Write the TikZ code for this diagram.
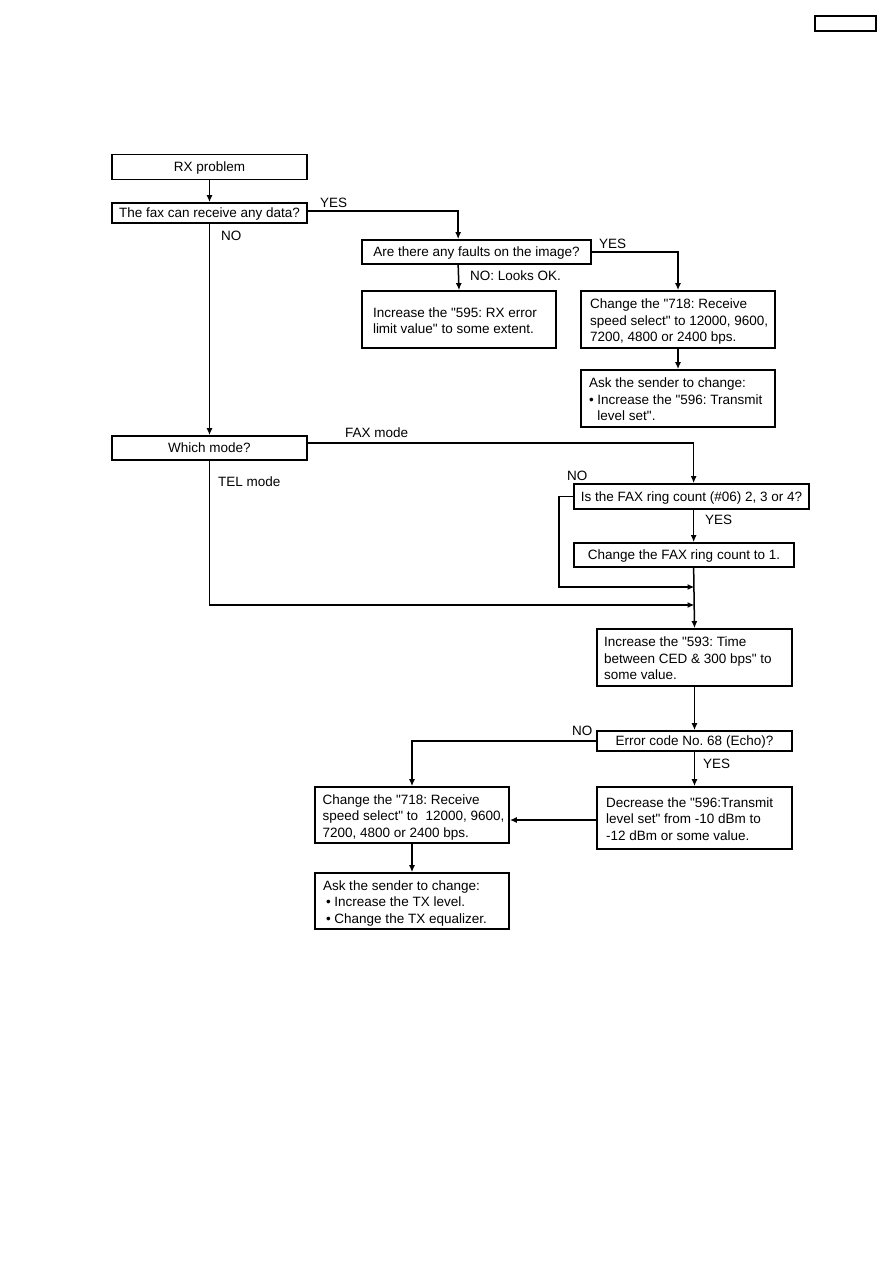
\documentclass[tikz,border=0pt]{standalone}
\usepackage{fontspec}
\setmainfont{Liberation Sans}[Ligatures=TeXOff]
\usetikzlibrary{arrows.meta,calc}
\frenchspacing
\newcommand{\boxtext}[3]{\raisebox{-2.5pt}[\height][\depth]{\makebox[#1][l]{\hspace*{#2}\begin{tabular}{@{}l@{}}#3\end{tabular}}}}
\begin{document}
\begin{tikzpicture}[x=1pt,y=-1pt,
 every node/.style={font=\fontsize{13.5}{16.6}\selectfont},
 box/.style={draw,line width=1.7pt,inner sep=0pt},
 sbox/.style n args={2}{box,minimum width=#1,minimum height=#2},
 tbox/.style n args={2}{sbox={#1}{#2},text height=9.7pt,text depth=0pt},
 lbl/.style={inner sep=0pt,anchor=base west},
 con/.style={line width=1.5pt},
 arr/.style={con,-{Latex[length=7pt,width=6pt]}}]
\useasboundingbox (0,0) rectangle (893,1263);
% boxes
\node[tbox={195pt}{25pt}] (rx) at (209.5,167) {RX problem};
\node[tbox={195pt}{20pt}] (fax) at (209.5,213) {The fax can receive any data?};
\node[tbox={229pt}{24pt}] (faults) at (476.5,252) {Are there any faults on the image?};
\node[sbox={194pt}{57pt}] (inc595) at (459,319.5) {\boxtext{194pt}{11pt}{Increase the "595: RX error\\ limit value" to some extent.}};
\node[sbox={194pt}{57pt}] (ch718a) at (678,319.5) {\boxtext{194pt}{9pt}{Change the "718: Receive\\ speed select" to 12000, 9600,\\ 7200, 4800 or 2400 bps.}};
\node[sbox={194pt}{57pt}] (ask1) at (678,398.5) {\boxtext{194pt}{8pt}{Ask the sender to change:\\ • Increase the "596: Transmit\\ \phantom{• }level set".}};
\node[tbox={195pt}{24pt}] (which) at (209.5,448) {Which mode?};
\node[tbox={235pt}{25pt}] (ring) at (691.5,496.5) {Is the FAX ring count (\#06) 2, 3 or 4?};
\node[tbox={220pt}{24pt}] (chfax) at (684,555) {Change the FAX ring count to 1.};
\node[sbox={195pt}{57pt}] (inc593) at (694.5,657.5) {\boxtext{195pt}{7pt}{Increase the "593: Time\\ between CED \& 300 bps" to\\ some value.}};
\node[tbox={195pt}{20pt}] (err) at (694.5,741) {Error code No. 68 (Echo)?};
\node[sbox={195pt}{62pt}] (dec) at (694.5,818) {\boxtext{195pt}{9pt}{Decrease the "596:Transmit\\ level set" from -10 dBm to\\ -12 dBm or some value.}};
\node[sbox={194pt}{56pt}] (ch718b) at (412,815) {\boxtext{194pt}{7.5pt}{Change the "718: Receive\\ speed select" to\ \ 12000, 9600,\\ 7200, 4800 or 2400 bps.}};
\node[sbox={194pt}{56pt}] (ask2) at (412,901) {\boxtext{194pt}{8pt}{Ask the sender to change:\\ \hspace*{3pt}• Increase the TX level.\\ \hspace*{3pt}• Change the TX equalizer.}};
\node[draw,line width=1.3pt,inner sep=0pt,minimum width=61pt,minimum height=15pt] (pagebox) at (845.5,23.5) {};
% junctions
\coordinate (j1) at (694.5,587);
\coordinate (j2) at (694.5,605);
% connectors
\draw[arr] (rx.south) -- (fax.north);
\draw[arr] ([yshift=2pt]fax.east) -| ([xshift=97pt]faults.north west);
\draw[arr] (faults.east) -| (ch718a.north);
\draw[arr] ([xshift=97pt]faults.south west) -- (inc595.north);
\draw[arr] (ch718a.south) -- (ask1.north);
\draw[arr] (fax.south) -- (which.north);
\draw[arr] ([yshift=5pt]which.east) -| ([xshift=120.5pt]ring.north west);
\draw[arr] ([xshift=120.5pt]ring.south west) -- ([xshift=120.5pt]chfax.north west);
\draw[arr] ([xshift=120.5pt]chfax.south west) -- (inc593.north);
\draw[arr] (ring.west) -- ++(-14,0) |- (j1);
\draw[arr] (which.south) |- (j2);
\draw[arr] (inc593.south) -- (err.north);
\draw[arr] (err.west) -| (ch718b.north);
\draw[arr] (err.south) -- (dec.north);
\draw[arr] ([yshift=-2pt]dec.west) -- ([yshift=-2pt]dec.west -| ch718b.east);
\draw[arr] (ch718b.south) -- (ask2.north);
% labels
\node[lbl] (lyes1) at (320,207) {YES};
\node[lbl] (lno1) at (221,240) {NO};
\node[lbl] (lyes2) at (599,248) {YES};
\node[lbl] (lnook) at (470,280) {NO: Looks OK.};
\node[lbl] (lfax) at (345,437) {FAX mode};
\node[lbl] (lno2) at (567,480) {NO};
\node[lbl] (ltel) at (218,486) {TEL mode};
\node[lbl] (lyes3) at (705,524) {YES};
\node[lbl] (lno3) at (572,735) {NO};
\node[lbl] (lyes4) at (703,768) {YES};
\end{tikzpicture}
\end{document}
